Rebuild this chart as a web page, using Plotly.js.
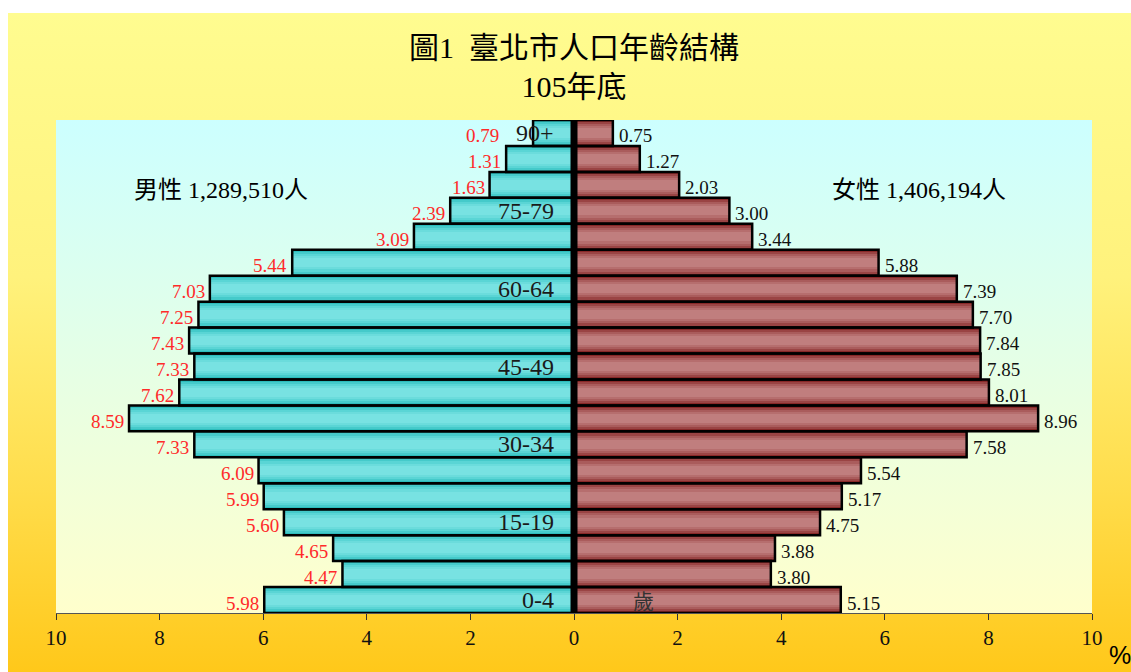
<!DOCTYPE html>
<html>
<head>
<meta charset="utf-8">
<script src="https://cdn.plot.ly/plotly-3.0.1.min.js"></script>
<style>
  html, body { margin:0; padding:0; background:#ffffff; }
  #bg { position:absolute; left:8px; top:13px; width:1123px; height:659px;
        background:linear-gradient(#FFFC90 0%, #FFF27C 40%, #FFDD4C 72%, #FFC81A 100%); }
  #chart { position:absolute; left:0; top:0; width:1131px; height:672px; }
</style>
</head>
<body>
<div id="bg"></div>
<div id="chart"></div>
<script>
// ---- data (bottom to top) ----
const ageGroups = ['0-4','5-9','10-14','15-19','20-24','25-29','30-34','35-39','40-44','45-49',
                   '50-54','55-59','60-64','65-69','70-74','75-79','80-84','85-89','90+'];
const malePct   = [5.98,4.47,4.65,5.60,5.99,6.09,7.33,8.59,7.62,7.33,7.43,7.25,7.03,5.44,3.09,2.39,1.63,1.31,0.79];
const femalePct = [5.15,3.80,3.88,4.75,5.17,5.54,7.58,8.96,8.01,7.85,7.84,7.70,7.39,5.88,3.44,3.00,2.03,1.27,0.75];
const titleLines = ['圖1  臺北市人口年齡結構', '105年底'];
const maleLabel = '男性 1,289,510人';
const femaleLabel = '女性 1,406,194人';
const ageUnit = '歲';
const tickValues = [-10,-8,-6,-4,-2,0,2,4,6,8,10];
const tickLabels = ['10','8','6','4','2','0','2','4','6','8','10'];

const serif = 'Liberation Serif, "Times New Roman", "Noto Sans CJK TC", serif';
const cjk = 'Liberation Serif, "Noto Sans CJK TC", serif';

// shading layers to imitate the gradient fill of the bars
const maleShades   = ['#2DBCBC', '#45CACA', '#5AD5D5', '#6BDCDC', '#78E2E2'];
const femaleShades = ['#882828', '#9A4444', '#AA5C5C', '#B66E6E', '#C07E7E'];
const shadeWidths  = [1.0, 0.84, 0.68, 0.52, 0.36];

const maleX = malePct.map(v => -v);
const traces = [];
shadeWidths.forEach((w, i) => {
  traces.push({type:'bar', orientation:'h', x:maleX, y:ageGroups, width:w,
    marker:{color:maleShades[i], line:{width:0}}, hoverinfo:'skip', showlegend:false});
  traces.push({type:'bar', orientation:'h', x:femalePct, y:ageGroups, width:w,
    marker:{color:femaleShades[i], line:{width:0}}, hoverinfo:'skip', showlegend:false});
});
// outlines
traces.push({type:'bar', orientation:'h', x:maleX, y:ageGroups, width:1,
  marker:{color:'rgba(0,0,0,0)', line:{color:'#000', width:2.5}}, hoverinfo:'skip', showlegend:false});
traces.push({type:'bar', orientation:'h', x:femalePct, y:ageGroups, width:1,
  marker:{color:'rgba(0,0,0,0)', line:{color:'#000', width:2.5}}, hoverinfo:'skip', showlegend:false});

const annotations = [];
const catLabelX = -0.35;
ageGroups.forEach((g, i) => {
  const labelled = (i % 3 === 0);
  // left edge of the category label (approx. width per char) so that the value text never overlaps it
  const catLeft = catLabelX - g.length * 0.25;
  const mx = labelled ? Math.min(-malePct[i], catLeft - 0.25) : -malePct[i];
  annotations.push({x:mx, y:g, xref:'x', yref:'y', text:malePct[i].toFixed(2),
    showarrow:false, xanchor:'right', yanchor:'middle', xshift:-3, yshift:-3,
    font:{family:serif, size:19, color:'#FF2A2A'}});
  annotations.push({x:femalePct[i], y:g, xref:'x', yref:'y', text:femalePct[i].toFixed(2),
    showarrow:false, xanchor:'left', yanchor:'middle', xshift:4, yshift:-3,
    font:{family:serif, size:19, color:'#111'}});
  if (labelled) {
    annotations.push({x:catLabelX, y:g, xref:'x', yref:'y', text:g, showarrow:false,
      xanchor:'right', yanchor:'middle', font:{family:serif, size:24, color:'#1a1a1a'}});
  }
});
annotations.push({x:1.35, y:ageGroups[0], xref:'x', yref:'y', text:ageUnit, showarrow:false,
  xanchor:'center', yanchor:'middle', yshift:-2, font:{family:cjk, size:21, color:'#333'}});
annotations.push({x:0.159, y:0.858, xref:'paper', yref:'paper', text:maleLabel, showarrow:false,
  xanchor:'center', yanchor:'middle', font:{family:cjk, size:24, color:'#000'}});
annotations.push({x:0.833, y:0.858, xref:'paper', yref:'paper', text:femaleLabel, showarrow:false,
  xanchor:'center', yanchor:'middle', font:{family:cjk, size:24, color:'#000'}});
annotations.push({x:1.027, y:-0.085, xref:'paper', yref:'paper', text:'%', showarrow:false,
  xanchor:'center', yanchor:'middle', font:{family:'Liberation Sans, Arial, sans-serif', size:25, color:'#000'}});

const bgSvg = 'data:image/svg+xml;charset=utf-8,' + encodeURIComponent(
  '<svg xmlns="http://www.w3.org/2000/svg" width="100" height="100" preserveAspectRatio="none">' +
  '<defs><linearGradient id="g" x1="0" y1="0" x2="0" y2="1">' +
  '<stop offset="0" stop-color="#CCFFFF"/><stop offset="1" stop-color="#FFFFCC"/>' +
  '</linearGradient></defs><rect width="100" height="100" fill="url(#g)"/></svg>');

const layout = {
  width:1131, height:672,
  margin:{l:56, r:39, t:120, b:59},
  paper_bgcolor:'rgba(0,0,0,0)', plot_bgcolor:'rgba(0,0,0,0)',
  barmode:'overlay', bargap:0,
  showlegend:false, hovermode:false,
  title:{text:titleLines.join('<br>'), x:0.5, xref:'paper', xanchor:'center',
         y:0.914, yref:'container', yanchor:'top',
         font:{family:cjk, size:30, color:'#000'}},
  xaxis:{range:[-10,10], tickvals:tickValues, ticktext:tickLabels, showgrid:false, zeroline:false,
         showline:true, linecolor:'#555', linewidth:1, ticks:'outside', ticklen:6, tickcolor:'#333',
         tickfont:{family:serif, size:21, color:'#111'}, fixedrange:true},
  yaxis:{type:'category', range:[-0.5, 18.5], showticklabels:false, showgrid:false, zeroline:false,
         showline:false, ticks:'', fixedrange:true},
  images:[{source:bgSvg, xref:'paper', yref:'paper', x:0, y:1, sizex:1, sizey:1,
           sizing:'stretch', layer:'below', xanchor:'left', yanchor:'top'}],
  shapes:[{type:'line', xref:'x', yref:'paper', x0:0, x1:0, y0:0, y1:1,
           line:{color:'#000', width:7}, layer:'above'}],
  annotations:annotations
};

Plotly.newPlot('chart', traces, layout, {displayModeBar:false, staticPlot:true});
</script>
</body>
</html>
